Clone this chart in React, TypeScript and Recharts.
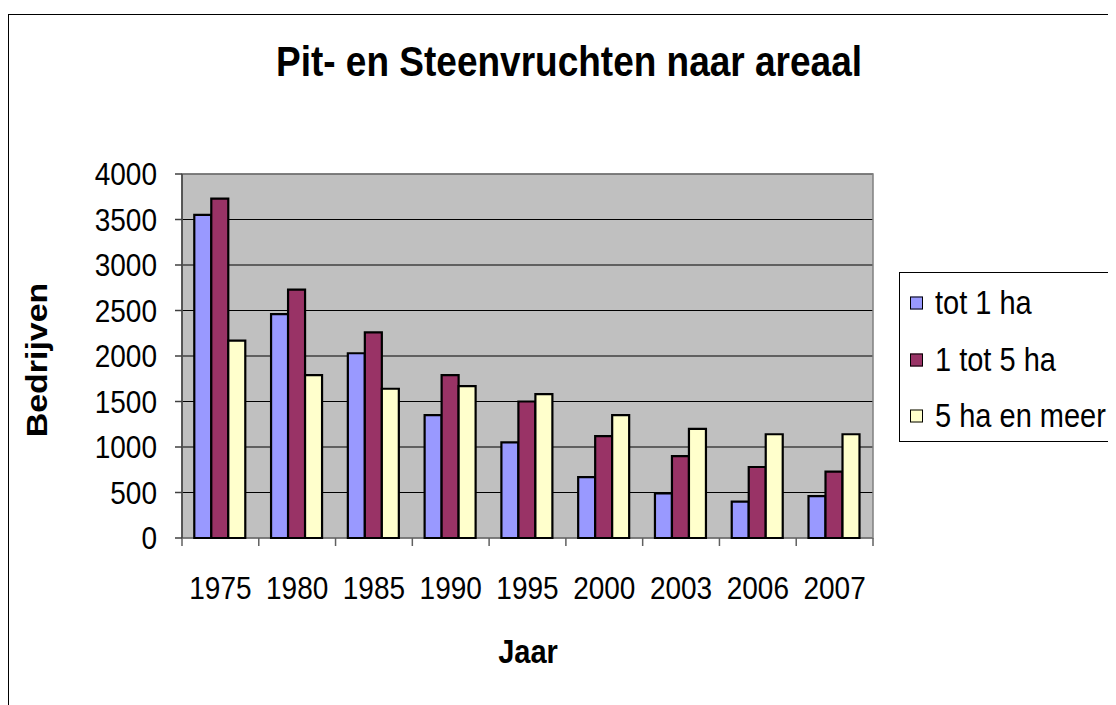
import React from "react";
import { BarChart, Bar, XAxis, YAxis, CartesianGrid, usePlotArea } from "recharts";

const years = ["1975", "1980", "1985", "1990", "1995", "2000", "2003", "2006", "2007"];
const tot1ha = [3550, 2460, 2030, 1350, 1050, 670, 490, 400, 460];
const tot5ha = [3730, 2730, 2260, 1790, 1500, 1120, 900, 780, 730];
const meer5ha = [2170, 1790, 1640, 1670, 1580, 1350, 1200, 1140, 1140];
const yTicks = [0, 500, 1000, 1500, 2000, 2500, 3000, 3500, 4000];

const series = [
  { key: "tot1", name: "tot 1 ha", color: "#9999FF" },
  { key: "tot5", name: "1 tot 5 ha", color: "#993366" },
  { key: "meer", name: "5 ha en meer", color: "#FFFFCC" },
];

const data = years.map((jaar, i) => ({
  jaar,
  tot1: tot1ha[i],
  tot5: tot5ha[i],
  meer: meer5ha[i],
}));

const FONT = "'Liberation Sans', Arial, sans-serif";
const STRETCH = 1.13;

function YTick(props: any) {
  const { x, y, payload } = props;
  return (
    <text
      x={x}
      y={y}
      dy="0.35em"
      textAnchor="end"
      fontSize={28}
      fontFamily={FONT}
      fill="#000"
      transform={`translate(0 ${y}) scale(1 ${STRETCH}) translate(0 ${-y})`}
    >
      {payload.value}
    </text>
  );
}

function XTick(props: any) {
  const { x, y, payload } = props;
  return (
    <text
      x={x}
      y={y}
      dy="0.35em"
      textAnchor="middle"
      fontSize={28}
      fontFamily={FONT}
      fill="#000"
      transform={`translate(0 ${y}) scale(1 ${STRETCH}) translate(0 ${-y})`}
    >
      {payload.value}
    </text>
  );
}

// plot border and the x tick marks that sit between the categories
function PlotFrame() {
  const area = usePlotArea();
  if (!area) return null;
  const { x, y, width, height } = area;
  const n = years.length;
  return (
    <g>
      <rect x={x} y={y} width={width} height={height} fill="none" stroke="#808080" strokeWidth={1.5} />
      <line x1={x} x2={x} y1={y} y2={y + height} stroke="#404040" strokeWidth={1.5} />
      {Array.from({ length: n + 1 }, (_, i) => (
        <line
          key={i}
          x1={x + (i * width) / n}
          x2={x + (i * width) / n}
          y1={y + height}
          y2={y + height + 8}
          stroke="#606060"
          strokeWidth={1.5}
        />
      ))}
    </g>
  );
}

export default function App() {
  return (
    <div
      style={{
        position: "relative",
        width: 1108,
        height: 697,
        overflow: "hidden",
        fontFamily: FONT,
        background: "#fff",
      }}
    >
      <div
        style={{
          position: "absolute",
          left: 0,
          top: 6,
          width: 2000,
          height: 2000,
          border: "1px solid #000",
        }}
      />
      <div
        style={{
          position: "absolute",
          left: 0,
          top: 37,
          width: 1122,
          textAlign: "center",
          fontSize: 37,
          lineHeight: "37px",
          fontWeight: "bold",
          transform: `scaleY(${STRETCH})`,
          transformOrigin: "50% 80%",
        }}
      >
        Pit- en Steenvruchten naar areaal
      </div>
      <BarChart
        width={1108}
        height={697}
        data={data}
        margin={{ top: 166, right: 243, bottom: 107, left: 0 }}
        barCategoryGap="16%"
        barGap={0}
        style={{ position: "absolute", left: 0, top: 0 }}
      >
        <CartesianGrid vertical={false} stroke="#000" fill="#C0C0C0" />
        <XAxis
          dataKey="jaar"
          height={60}
          axisLine={false}
          tickLine={false}
          tickSize={0}
          tickMargin={50}
          tick={<XTick />}
          interval={0}
        />
        <YAxis
          width={174}
          domain={[0, 4000]}
          ticks={yTicks}
          interval={0}
          axisLine={false}
          tickLine={{ stroke: "#404040", strokeWidth: 1.5 }}
          tickSize={7}
          tickMargin={18}
          tick={<YTick />}
        />
        {series.map((s) => (
          <Bar
            key={s.key}
            dataKey={s.key}
            name={s.name}
            fill={s.color}
            stroke="#000"
            strokeWidth={2.2}
            isAnimationActive={false}
          />
        ))}
        <PlotFrame />
      </BarChart>
      <div
        style={{
          position: "absolute",
          left: 520,
          top: 644,
          transform: `translate(-50%, -50%) scaleY(${STRETCH})`,
          fontSize: 29,
          fontWeight: "bold",
          whiteSpace: "nowrap",
        }}
      >
        Jaar
      </div>
      <div
        style={{
          position: "absolute",
          left: 29,
          top: 352,
          transform: `translate(-50%, -50%) rotate(-90deg) scale(${STRETCH}, 1)`,
          fontSize: 30,
          fontWeight: "bold",
          whiteSpace: "nowrap",
        }}
      >
        Bedrijven
      </div>
      <div
        style={{
          position: "absolute",
          left: 891,
          top: 264,
          width: 400,
          height: 168,
          border: "1px solid #000",
          background: "#fff",
        }}
      >
        {series.map((s, i) => (
          <div
            key={s.key}
            style={{
              position: "absolute",
              left: 10,
              top: 30 + i * 56.5,
              transform: "translateY(-50%)",
              display: "flex",
              alignItems: "center",
              whiteSpace: "nowrap",
            }}
          >
            <span
              style={{
                display: "inline-block",
                width: 11,
                height: 11,
                background: s.color,
                border: "1.5px solid #000",
                marginRight: 12,
              }}
            />
            <span style={{ fontSize: 29, display: "inline-block", transform: `scaleY(${STRETCH})` }}>
              {s.name}
            </span>
          </div>
        ))}
      </div>
    </div>
  );
}
